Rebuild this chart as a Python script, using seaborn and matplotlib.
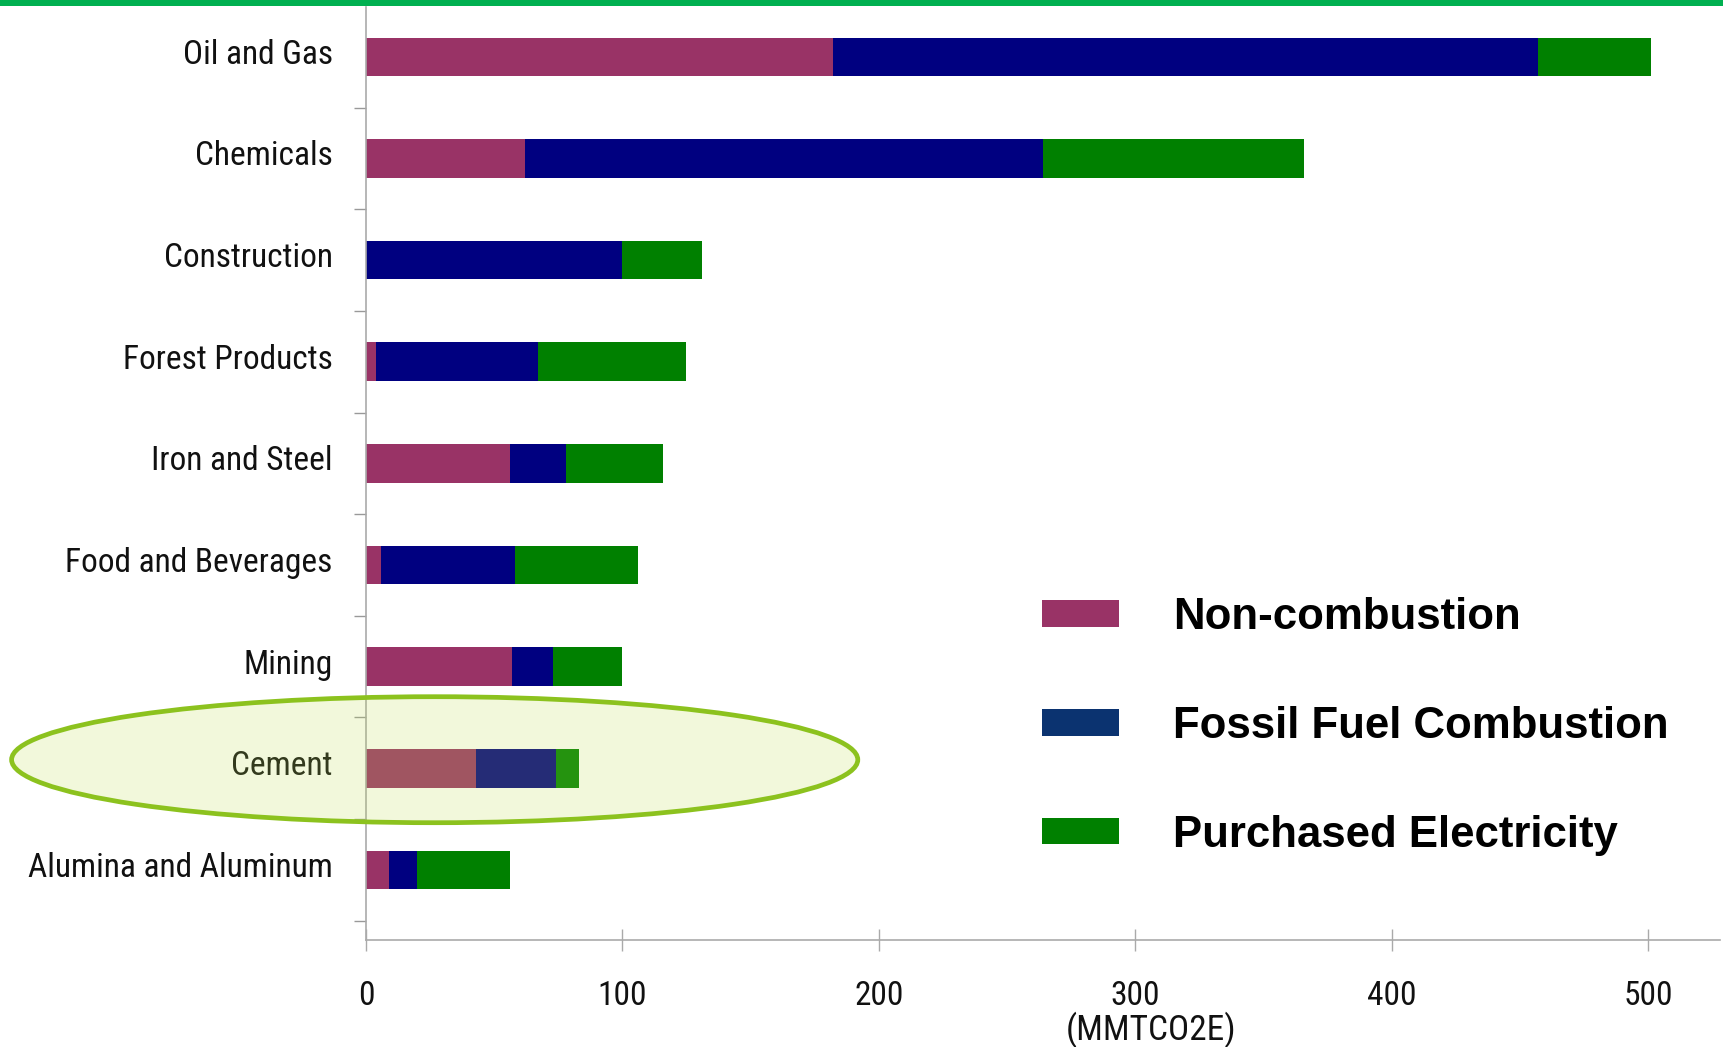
import pandas as pd
import matplotlib
matplotlib.use("Agg")
import matplotlib.pyplot as plt
import matplotlib.transforms as mtransforms
import seaborn as sns
from matplotlib.patches import Ellipse, Patch, Rectangle

# emissions by sector (MMTCO2E)
sectors = ["Oil and Gas", "Chemicals", "Construction", "Forest Products", "Iron and Steel",
           "Food and Beverages", "Mining", "Cement", "Alumina and Aluminum"]
non_combustion = [182, 62, 0, 4, 56, 6, 57, 43, 9]
fossil_fuel = [275, 202, 100, 63, 22, 52, 16, 31, 11]
electricity = [44, 102, 31, 58, 38, 48, 27, 9, 36]
series_names = ["Non-combustion", "Fossil Fuel Combustion", "Purchased Electricity"]
x_ticks = [0, 100, 200, 300, 400, 500]
x_label = "(MMTCO2E)"
highlight = "Cement"

df = pd.DataFrame({"sector": sectors, "non": non_combustion,
                   "fossil": fossil_fuel, "elec": electricity})
df["to_fossil"] = df["non"] + df["fossil"]
df["to_elec"] = df["to_fossil"] + df["elec"]

sns.set_theme(style="white")
narrow = ["Roboto Condensed", "Archivo Narrow", "PT Sans Narrow", "DejaVu Sans"]
plt.rcParams["font.family"] = ["Liberation Sans", "DejaVu Sans"]

bar_colors = {"non": "#993366", "to_fossil": "#000080", "to_elec": "#008000"}
legend_colors = ["#993366", "#0B3370", "#008000"]

fig = plt.figure(figsize=(17.23, 10.47), dpi=100)
ax = fig.add_axes([0.2124, 0.1022, 0.7858, 0.8911])

# stacked bars: draw cumulative totals back to front
for col in ["to_elec", "to_fossil", "non"]:
    sns.barplot(data=df, x=col, y="sector", orient="h", color=bar_colors[col],
                width=0.38, saturation=1, linewidth=0, errorbar=None, ax=ax)

# highlight ellipse around the cement row
row = sectors.index(highlight)
ax.add_patch(Ellipse((26.8, row - 0.084), 330, 1.24, facecolor=(0.745, 0.88, 0.31, 0.2),
                     edgecolor="none", zorder=10, clip_on=False))
ax.add_patch(Ellipse((26.8, row - 0.084), 330, 1.24, facecolor="none",
                     edgecolor="#8CC21E", linewidth=3.4, zorder=11, clip_on=False))

ax.set_xlim(0, 528)
ax.set_ylim(8.69, -0.49)
ax.set_xticks(x_ticks)
ax.set_xticklabels([str(t) for t in x_ticks], family=narrow, fontsize=24, color="#111111")
ax.set_yticks(range(len(sectors)))
ax.set_yticklabels(sectors, family=narrow, fontsize=24, color="#111111")
ax.set_yticks([i + 0.5 for i in range(len(sectors))], minor=True)
ax.tick_params(axis="x", direction="inout", length=16, color="#aaaaaa", width=1, pad=21, bottom=True)
ax.tick_params(axis="y", which="major", length=0, pad=24)
ax.tick_params(axis="y", which="minor", direction="out", length=9, color="#999999", width=1, left=True)

# sector names sit a little above the bar centres
lift = mtransforms.ScaledTranslation(0, 0.055, fig.dpi_scale_trans)
for lbl in ax.get_yticklabels():
    lbl.set_transform(lbl.get_transform() + lift)

ax.set_xlabel("")
ax.set_ylabel("")
for side in ["top", "right"]:
    ax.spines[side].set_visible(False)
for side in ["left", "bottom"]:
    ax.spines[side].set_color("#aaaaaa")
    ax.spines[side].set_linewidth(1.2)

ax.text(306 / 528, -0.0965, x_label, transform=ax.transAxes, ha="center", va="center",
        family=narrow, fontsize=25.5, color="#111111")

handles = [Patch(facecolor=c, edgecolor="none") for c in legend_colors]
fig.legend(handles, series_names, loc="upper left", bbox_to_anchor=(1042 / 1723, 1 - 597 / 1047),
           frameon=False, labelcolor="black",
           prop={"family": ["Liberation Sans", "DejaVu Sans"], "weight": "bold", "size": 31.5},
           handlelength=1.76, handleheight=0.55, handletextpad=1.23, labelspacing=1.55,
           borderpad=0, borderaxespad=0)

# green band along the top edge
fig.add_artist(Rectangle((0, 1 - 6 / 1047), 1, 6 / 1047, transform=fig.transFigure,
                         color="#00B050", linewidth=0))

fig.savefig("out.png", dpi=100)
